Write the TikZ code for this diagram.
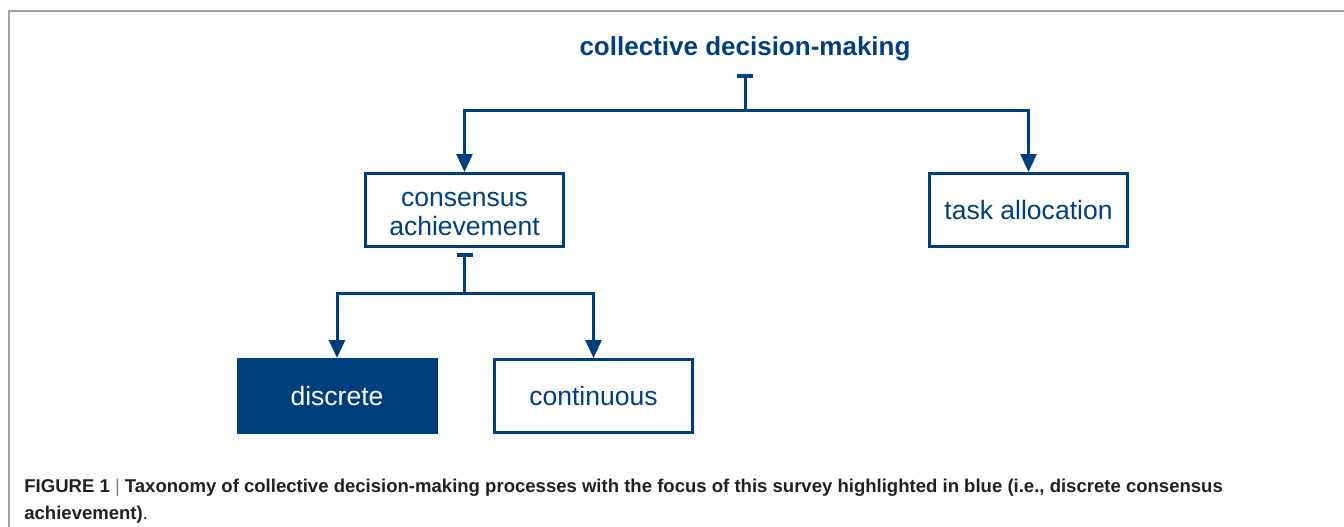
\documentclass[tikz,border=0pt]{standalone}
\usepackage{fontspec}
\setmainfont{Liberation Sans}
\usepackage{tikz}
\usetikzlibrary{arrows.meta}
\definecolor{cblue}{RGB}{0,63,125}
\definecolor{framegray}{RGB}{160,160,160}
\definecolor{captext}{RGB}{35,31,32}
\tikzstyle{box} = [rectangle, draw=cblue, line width=0.06cm, minimum width=3.96cm, minimum height=1.46cm, text=cblue, align=center, font=\fontsize{15.1}{16.4}\selectfont]
\tikzstyle{title} = [text=cblue, font=\fontsize{14.8}{16}\selectfont\bfseries, inner ysep=0.24cm]
\tikzstyle{branch} = [draw=cblue, line width=0.06cm, {Bar[width=0.32cm, line width=0.08cm]}-{Triangle[length=0.36cm, width=0.32cm]}]
\tikzstyle{frame} = [draw=framegray, line width=0.04cm]

\begin{document}
\begin{tikzpicture}[node distance=3.26cm]
\useasboundingbox (0,0) rectangle (26.88,-10.54);
\draw [frame] (26.88,-0.22) -- (0.18,-0.22) -- (0.18,-10.54);

\node(cdm)[title,anchor=base] at (14.9,-1.12) {collective decision-making};
\node(consensus)[box] at (9.29,-4.2) {\rule{0pt}{12.3pt}consensus\\achievement};
\node(task)[box,right of=consensus,xshift=8.02cm] {task allocation};
\node(discrete)[box,fill=cblue,text=white,below of=consensus,yshift=-0.46cm,xshift=-2.55cm] {discrete};
\node(continuous)[box,below of=consensus,yshift=-0.46cm,xshift=2.58cm] {continuous};

\node(caption)[anchor=base west,align=left,inner sep=0pt,text=captext,font=\fontsize{10.55}{15.2}\selectfont\bfseries] at (0.48,-10.38)
 {FIGURE 1 {\mdseries\textcolor{gray}{|}} Taxonomy of collective decision-making processes with the focus of this survey highlighted in blue (i.e., discrete consensus\\achievement){\mdseries.}};

\draw [branch] (cdm.south) -- ++(0,-0.74) -| (consensus);
\draw [branch] (cdm.south) -- ++(0,-0.74) -| (task);

\draw [branch,shorten <=0.1cm] (consensus.south) -- ++(0,-0.9) -| (discrete);
\draw [branch,shorten <=0.1cm] (consensus.south) -- ++(0,-0.9) -| (continuous);
\end{tikzpicture}
\end{document}
